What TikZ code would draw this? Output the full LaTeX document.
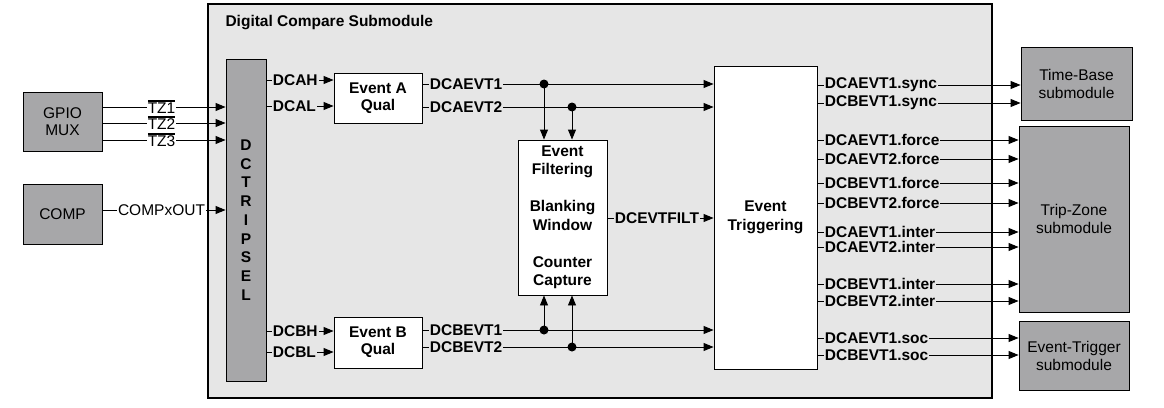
\documentclass[tikz,border=0pt]{standalone}
\usepackage{fontspec}
\setmainfont{Liberation Sans}
\usetikzlibrary{arrows.meta}
\definecolor{regionbg}{HTML}{E6E6E6}
\definecolor{boxgray}{HTML}{A7A7A9}
\newcommand{\tzbar}[1]{\setbox0\hbox{#1}\rlap{\rule[12pt]{\wd0}{1.6pt}}\box0}
\tikzset{
 rfont/.style={font=\fontsize{15.5}{17}\selectfont},
 bfont/.style={font=\fontsize{15.5}{17}\selectfont\bfseries},
 graybox/.style={draw=black, line width=0.9pt, fill=boxgray, inner sep=0pt, align=center, rfont},
 whitebox/.style={draw=black, line width=0.9pt, fill=white, inner sep=0pt, align=center, bfont},
 arr/.style={-{Triangle[length=10pt,width=8pt]}, line width=0.9pt},
 lbl/.style={bfont, fill=regionbg, inner sep=1pt, anchor=west, pos=0, xshift=6pt},
 wlbl/.style={rfont, fill=white, inner sep=1pt},
 dot/.style={circle, fill=black, inner sep=0pt, minimum size=9pt},
}
\begin{document}
\begin{tikzpicture}[x=1pt,y=-1pt]
\useasboundingbox (0,0) rectangle (1164,407);
% region
\node[draw, line width=1.1pt, fill=regionbg, minimum width=784pt, minimum height=394pt, inner sep=0pt] (dc) at (600,201) {};
\node[bfont, anchor=west] (title) at (222,23) {Digital Compare Submodule};
% boxes
\node[graybox, minimum width=79pt, minimum height=59pt] (gpio) at (62.5,122) {GPIO\\MUX};
\node[graybox, minimum width=79pt, minimum height=60pt] (comp) at (62.5,214) {COMP};
\node[graybox, minimum width=40pt, minimum height=322pt, font=\fontsize{15.5}{18.75}\selectfont\bfseries] (dcts) at (246,220) {D\\C\\T\\R\\I\\P\\S\\E\\L};
\node[whitebox, minimum width=88pt, minimum height=50pt] (evA) at (378,98) {Event A\\Qual};
\node[whitebox, minimum width=88pt, minimum height=51pt] (evB) at (378,342.5) {Event B\\Qual};
\node[whitebox, minimum width=89pt, minimum height=155pt, font=\fontsize{15.5}{18.5}\selectfont\bfseries] (filt) at (562.5,217.5) {Event\\Filtering\\[18.5pt]Blanking\\Window\\[18.5pt]Counter\\Capture};
\node[whitebox, minimum width=103pt, minimum height=303pt, font=\fontsize{15.5}{19}\selectfont\bfseries] (trig) at (765.5,217.5) {Event\\Triggering};
\node[graybox, minimum width=111pt, minimum height=73pt, font=\fontsize{15.5}{18}\selectfont] (tb) at (1076.5,83.5) {Time-Base\\submodule};
\node[graybox, minimum width=110pt, minimum height=186pt, font=\fontsize{15.5}{18}\selectfont] (tz) at (1074,219) {Trip-Zone\\submodule};
\node[graybox, minimum width=110pt, minimum height=69pt, font=\fontsize{15.5}{18}\selectfont] (et) at (1074,355.5) {Event-Trigger\\submodule};
% inputs
\draw[arr] (gpio.east |- 0,107) -- node[wlbl, pos=0.48] {\tzbar{TZ1}} (dcts.west |- 0,107);
\draw[arr] (gpio.east |- 0,123) -- node[wlbl, pos=0.48] {\tzbar{TZ2}} (dcts.west |- 0,123);
\draw[arr] (gpio.east |- 0,140) -- node[wlbl, pos=0.48] {\tzbar{TZ3}} (dcts.west |- 0,140);
\draw[arr] (comp.east |- 0,210) -- node[wlbl, pos=0.48] {COMPxOUT} (dcts.west |- 0,210);
% to qualifiers
\draw[arr] (dcts.east |- 0,80) -- node[lbl, xshift=-1pt] {DCAH} (evA.west |- 0,80);
\draw[arr] (dcts.east |- 0,106) -- node[lbl, xshift=-1pt] {DCAL} (evA.west |- 0,106);
\draw[arr] (dcts.east |- 0,331) -- node[lbl, xshift=-1pt] {DCBH} (evB.west |- 0,331);
\draw[arr] (dcts.east |- 0,352) -- node[lbl, xshift=-1pt] {DCBL} (evB.west |- 0,352);
% qualifier outputs
\draw[arr] (evA.east |- 0,84) -- node[lbl] {DCAEVT1} (trig.west |- 0,84);
\draw[arr] (evA.east |- 0,107) -- node[lbl] {DCAEVT2} (trig.west |- 0,107);
\draw[arr] (evB.east |- 0,330) -- node[lbl] {DCBEVT1} (trig.west |- 0,330);
\draw[arr] (evB.east |- 0,347) -- node[lbl] {DCBEVT2} (trig.west |- 0,347);
% dots and taps
\node[dot] (dA1) at (544,84) {};
\node[dot] (dA2) at (572,107) {};
\node[dot] (dB1) at (544,330) {};
\node[dot] (dB2) at (572,347) {};
\draw[arr] (dA1.center) -- (dA1 |- filt.north);
\draw[arr] (dA2.center) -- (dA2 |- filt.north);
\draw[arr] (dB1.center) -- (dB1 |- filt.south);
\draw[arr] (dB2.center) -- (dB2 |- filt.south);
\draw[arr] (filt.east |- 0,218) -- node[lbl] {DCEVTFILT} (trig.west |- 0,218);
% outputs
\draw[arr] (trig.east |- 0,85) -- node[lbl] {DCAEVT1.sync} (tb.west |- 0,85);
\draw[arr] (trig.east |- 0,103) -- node[lbl] {DCBEVT1.sync} (tb.west |- 0,103);
\draw[arr] (trig.east |- 0,140) -- node[lbl] {DCAEVT1.force} (tz.west |- 0,140);
\draw[arr] (trig.east |- 0,159) -- node[lbl] {DCAEVT2.force} (tz.west |- 0,159);
\draw[arr] (trig.east |- 0,183) -- node[lbl] {DCBEVT1.force} (tz.west |- 0,183);
\draw[arr] (trig.east |- 0,203) -- node[lbl] {DCBEVT2.force} (tz.west |- 0,203);
\draw[arr] (trig.east |- 0,232) -- node[lbl] {DCAEVT1.inter} (tz.west |- 0,232);
\draw[arr] (trig.east |- 0,247) -- node[lbl] {DCAEVT2.inter} (tz.west |- 0,247);
\draw[arr] (trig.east |- 0,284) -- node[lbl] {DCBEVT1.inter} (tz.west |- 0,284);
\draw[arr] (trig.east |- 0,301) -- node[lbl] {DCBEVT2.inter} (tz.west |- 0,301);
\draw[arr] (trig.east |- 0,338) -- node[lbl] {DCAEVT1.soc} (et.west |- 0,338);
\draw[arr] (trig.east |- 0,355) -- node[lbl] {DCBEVT1.soc} (et.west |- 0,355);
\end{tikzpicture}
\end{document}
